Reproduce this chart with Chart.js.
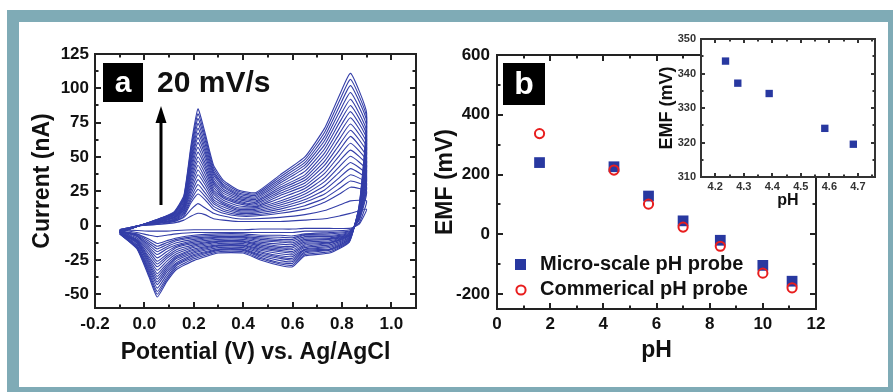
<!DOCTYPE html>
<html>
<head>
<meta charset="utf-8">
<script src="https://cdn.jsdelivr.net/npm/chart.js@4.4.1/dist/chart.umd.min.js"></script>
<style>
  html,body{margin:0;padding:0;background:#fff;}
  body{width:893px;height:392px;position:relative;overflow:hidden;}
  #frame{position:absolute;left:7px;top:10px;width:869px;height:365px;border-style:solid;border-color:#7fabb6;border-width:12px 5px 5px 12px;background:#fff;}
  canvas{position:absolute;}
</style>
</head>
<body>
<div id="frame"></div>
<canvas id="cA" width="440" height="392" style="left:0;top:0"></canvas>
<canvas id="cB" width="473" height="392" style="left:420px;top:0"></canvas>
<canvas id="cC" width="250" height="200" style="left:640px;top:20px"></canvas>
<script>
// ---------- Panel (a): cyclic voltammograms, 20 mV/s ----------
const potentials = [-0.1,-0.02,0.06,0.12,0.16,0.19,0.217,0.245,0.28,0.32,0.38,0.45,0.55,0.65,0.73,0.79,0.835,0.9,
                    0.87,0.83,0.75,0.65,0.6,0.55,0.47,0.4,0.3,0.2,0.13,0.09,0.052,0.02,-0.03,-0.1];
const cv01 = [-3,0,1,2,4,7,9,8,5,4,3,3,3,4,5,7,9,12, 1,-2,-2,-2,-2.5,-2.5,-2.5,-3,-3,-3,-3.5,-4,-4,-4,-3.5,-3];
const cv02 = [-3,0,1,3,6,12,16,13,9,7,5,5,6,8,11,15,18,18, 2,-3,-4,-4,-5,-5,-5,-5,-5,-5,-6,-7,-8,-7,-5,-3];
const cv03 = [-3,0,2,3,7,17,23,19,12,9,7,7,9,12,17,23,28,25, 4,-4,-5,-6,-7.5,-7,-7,-6,-6,-7,-9,-11,-13,-10,-6,-4];
const cv04 = [-3.5,0,2,3.5,8,19,26.5,21.5,14,10.5,8,8,10.5,14.5,20,27,32.5,28, 4.5,-4.5,-6,-6.5,-8.8,-8.5,-8,-7,-7,-8,-10,-12.5,-15,-11.5,-6.5,-4];
const cv05 = [-4,0,2,4,9,21,30,24,16,12,9,9,12,17,23,31,37,31, 5,-5,-7,-7,-10,-10,-9,-8,-8,-9,-11,-14,-17,-13,-7,-4];
const cv06 = [-4,0,2,4.5,10,23.5,33.5,27,17.5,13.5,10,10,13.5,19,26,35,41.5,34, 5.5,-5.5,-8,-8,-11.2,-11,-10,-8.5,-8.5,-10,-12.5,-15.5,-19,-14.5,-7.5,-4];
const cv07 = [-4,0,2,5,11,26,37,30,19,15,11,11,15,21,29,39,46,37, 6,-6,-9,-9,-12.5,-12,-11,-9,-9,-11,-14,-17,-21,-16,-8,-4];
const cv08 = [-4,0,2.5,5.5,11.5,28.5,40.5,32.5,21,16,12,12,16.5,23,32,43,50.5,40.5, 6.5,-6.5,-9.5,-10,-13.8,-13.5,-12,-10,-10,-12,-15,-19,-23.5,-17.5,-9,-4];
const cv09 = [-4,0,3,6,12,31,44,35,23,17,13,13,18,25,35,47,55,44, 7,-7,-10,-11,-15,-15,-13,-11,-11,-13,-16,-21,-26,-19,-10,-4];
const cv10 = [-4,0,3,6,13,33.5,47,38,24.5,18.5,14.5,13.5,20,27,38,51,60,47, 8,-7,-11,-12,-16.2,-16,-14,-11.5,-11.5,-14,-17.5,-22.5,-28,-21,-10.5,-4.5];
const cv11 = [-4,0,3,6,14,36,50,41,26,20,16,14,22,29,41,55,65,50, 9,-7,-12,-13,-17.5,-17,-15,-12,-12,-15,-19,-24,-30,-23,-11,-5];
const cv12 = [-4,0,3.5,6.5,14.5,38.5,53.5,43.5,28,21,17,15,23.5,31,44,59,69.5,53.5, 9.5,-7.5,-12.5,-14,-18.8,-18,-16,-13,-13,-16,-20.5,-26,-32.5,-24.5,-11.5,-5];
const cv13 = [-4,0,4,7,15,41,57,46,30,22,18,16,25,33,47,63,74,57, 10,-8,-13,-15,-20,-19,-17,-14,-14,-17,-22,-28,-35,-26,-12,-5];
const cv14 = [-4.5,0,4,7.5,16,43.5,60.5,49,31.5,23.5,19,17,26.5,35,50,67,78.5,60, 10.5,-8.5,-14,-16,-21.2,-20.5,-18,-14.5,-14.5,-18,-23,-29.5,-37,-27.5,-12.5,-5];
const cv15 = [-5,0,4,8,17,46,64,52,33,25,20,18,28,37,53,71,83,63, 11,-9,-15,-17,-22.5,-22,-19,-15,-15,-19,-24,-31,-39,-29,-13,-5];
const cv16 = [-5,0,4,8.5,18,48,67.5,54.5,35,26.5,21,19,29.5,39.5,56,75,87.5,66, 11.5,-9.5,-16,-17.5,-23.8,-23,-20,-16,-16,-20,-25.5,-32.5,-41,-30.5,-14,-5];
const cv17 = [-5,0,4,9,19,50,71,57,37,28,22,20,31,42,59,79,92,69, 12,-10,-17,-18,-25,-24,-21,-17,-17,-21,-27,-34,-43,-32,-15,-5];
const cv18 = [-5,0,4.5,9,19.5,52.5,74.5,60,38.5,29,23,21,32.5,44,62,83,97,72.5, 13,-10.5,-17.5,-19,-26.2,-25.5,-22,-17.5,-17.5,-22,-28,-36,-45.5,-33.5,-15.5,-5.5];
const cv19 = [-5,0,5,9,20,55,78,63,40,30,24,22,34,46,65,87,102,76, 14,-11,-18,-20,-27.5,-27,-23,-18,-18,-23,-29,-38,-48,-35,-16,-6];
const cv20 = [-5,0,5,9.5,21,57.5,81.5,65.5,42,31.5,25,23,35.5,48,68,91,106.5,79, 14.5,-11.5,-19,-21,-28.8,-28,-24,-19,-19,-24.2,-30.5,-39.5,-50,-36.5,-16.5,-6];
const cv21 = [-5,0,5,10,22,60,85,68,44,33,26,24,37,50,71,95,111,82, 15,-12,-20,-22,-30,-29,-25,-20,-20,-25.5,-32,-41,-52,-38,-17,-6];
const cvCycles = [cv01,cv02,cv03,cv04,cv05,cv06,cv07,cv08,cv09,cv10,cv11,cv12,cv13,cv14,cv15,cv16,cv17,cv18,cv19,cv20,cv21];

// ---------- Panel (b): EMF vs pH ----------
const phValues      = [1.6, 4.4, 5.7, 7.0, 8.4, 10.0, 11.1];
const emfMicro      = [240, 226, 128, 45, -20, -104, -157];
const emfCommercial = [337, 215, 101, 24, -40, -130, -179];
const seriesLabels  = ['Micro-scale pH probe', 'Commerical pH probe'];

// ---------- Inset ----------
const insetPH  = [4.236, 4.279, 4.389, 4.584, 4.684];
const insetEMF = [343.6, 337.2, 334.2, 324.1, 319.5];

const FONT = "'Liberation Sans', Arial, Helvetica, sans-serif";
Chart.defaults.font.family = FONT;
const INK = '#111';
const CV_COLOR = 'rgb(52,62,168)';
const BLUE = 'rgb(40,56,160)';
const RED = 'rgb(232,30,30)';

// Frame + inward ticks on all four sides, from the chart's own scales
const framePlugin = {
  id: 'frame',
  afterDatasetsDraw(chart, args, opts) {
    const {ctx, chartArea: a, scales: {x, y}} = chart;
    ctx.save();
    ctx.strokeStyle = opts.color || '#222';
    ctx.lineWidth = opts.width || 2;
    ctx.strokeRect(a.left, a.top, a.right - a.left, a.bottom - a.top);
    const major = opts.major || 6, minor = opts.minor || 3.5;
    const isMajor = (v, step) => Math.abs(v / step - Math.round(v / step)) < 1e-6;
    const each = (sc, step, fn) => {
      const start = Math.ceil((sc.min - 1e-9) / step);
      const end = Math.floor((sc.max + 1e-9) / step);
      for (let i = start; i <= end; i++) fn(i * step);
    };
    ctx.beginPath();
    each(x, opts.xMinor, v => {
      const px = Math.round(x.getPixelForValue(v));
      if (px <= a.left + 1 || px >= a.right - 1) return;
      const L = isMajor(v, opts.xMajor) ? major : minor;
      ctx.moveTo(px, a.bottom); ctx.lineTo(px, a.bottom - L);
      ctx.moveTo(px, a.top); ctx.lineTo(px, a.top + L);
    });
    each(y, opts.yMinor, v => {
      const py = Math.round(y.getPixelForValue(v));
      if (py <= a.top + 1 || py >= a.bottom - 1) return;
      const L = isMajor(v, opts.yMajor) ? major : minor;
      ctx.moveTo(a.left, py); ctx.lineTo(a.left + L, py);
      ctx.moveTo(a.right, py); ctx.lineTo(a.right - L, py);
    });
    ctx.stroke();
    ctx.restore();
  }
};

function labelBox(ctx, x0, y0, w, h, letter, size) {
  ctx.fillStyle = '#000';
  ctx.fillRect(x0, y0, w, h);
  ctx.fillStyle = '#fff';
  ctx.font = 'bold ' + size + 'px ' + FONT;
  ctx.textAlign = 'center';
  ctx.textBaseline = 'middle';
  ctx.fillText(letter, x0 + w / 2, y0 + h / 2 + 1);
}

const annotA = {
  id: 'annotA',
  afterDraw(chart) {
    const ctx = chart.ctx;
    ctx.save();
    labelBox(ctx, 103, 63, 40, 39, 'a', 30);
    ctx.fillStyle = INK;
    ctx.font = 'bold 30px ' + FONT;
    ctx.textAlign = 'left';
    ctx.textBaseline = 'middle';
    ctx.fillText('20 mV/s', 157, 84);
    // arrow
    ctx.strokeStyle = '#000';
    ctx.lineWidth = 3;
    ctx.beginPath(); ctx.moveTo(161, 205); ctx.lineTo(161, 120); ctx.stroke();
    ctx.fillStyle = '#000';
    ctx.beginPath(); ctx.moveTo(161, 106); ctx.lineTo(155.5, 123); ctx.lineTo(166.5, 123); ctx.closePath(); ctx.fill();
    ctx.restore();
  }
};

const annotB = {
  id: 'annotB',
  afterDraw(chart) {
    const ctx = chart.ctx;
    ctx.save();
    labelBox(ctx, 83, 63, 42, 42, 'b', 32);
    // legend built from the datasets
    const ds = chart.data.datasets;
    const micro = ds.find(d => d.label === seriesLabels[0]);
    const comm = ds.find(d => d.label === seriesLabels[1]);
    ctx.fillStyle = micro.pointBackgroundColor;
    ctx.fillRect(95, 259, 11, 11);
    ctx.strokeStyle = comm.pointBorderColor;
    ctx.lineWidth = 2;
    ctx.beginPath(); ctx.arc(101, 290, 4.6, 0, Math.PI * 2); ctx.stroke();
    ctx.fillStyle = INK;
    ctx.font = 'bold 20px ' + FONT;
    ctx.textAlign = 'left';
    ctx.textBaseline = 'middle';
    ctx.fillText(micro.label, 120, 264);
    ctx.fillText(comm.label, 120, 289);
    ctx.restore();
  }
};

const whiteArea = {
  id: 'whiteArea',
  beforeDatasetsDraw(chart) {
    const {ctx, chartArea: a} = chart;
    ctx.save();
    ctx.fillStyle = '#fff';
    ctx.fillRect(a.left, a.top, a.right - a.left, a.bottom - a.top);
    ctx.restore();
  }
};

function axis(opts) {
  return Object.assign({
    type: 'linear',
    grid: {display: false, drawTicks: false},
    border: {display: false},
  }, opts);
}

// ---------- Chart A ----------
new Chart(document.getElementById('cA'), {
  type: 'scatter',
  data: {
    datasets: cvCycles.map((c, i) => ({
      label: 'cycle ' + (i + 1),
      data: potentials.map((x, j) => ({x: x, y: c[j]})),
      showLine: true, borderColor: CV_COLOR, borderWidth: 1.1,
      pointRadius: 0, tension: 0.15, fill: false
    }))
  },
  options: {
    responsive: false, animation: false, devicePixelRatio: 1,
    layout: {padding: {left: 0, top: 54, right: 24, bottom: 0}},
    plugins: {legend: {display: false}, tooltip: {enabled: false},
      frame: {xMinor: 0.1, xMajor: 0.2, yMinor: 12.5, yMajor: 25}},
    scales: {
      x: axis({min: -0.2, max: 1.1,
        afterFit(s) { s.height = 84; },
        ticks: {stepSize: 0.2, includeBounds: false, padding: 6, maxRotation: 0, autoSkip: false,
          color: INK, font: {size: 17, weight: 'bold'}, callback: v => v.toFixed(1)},
        title: {display: true, text: 'Potential (V) vs. Ag/AgCl', color: INK,
          font: {size: 23, weight: 'bold'}, padding: {top: 0, bottom: 26}}}),
      y: axis({min: -60, max: 125,
        afterFit(s) { s.width = 95; },
        ticks: {stepSize: 25, includeBounds: false, padding: 6, autoSkip: false,
          color: INK, font: {size: 17, weight: 'bold'}},
        title: {display: true, text: 'Current (nA)', color: INK,
          font: {size: 23, weight: 'bold'}, padding: {top: 29, bottom: 0}}})
    }
  },
  plugins: [framePlugin, annotA]
});

// ---------- Chart B ----------
new Chart(document.getElementById('cB'), {
  type: 'scatter',
  data: {
    datasets: [
      {label: seriesLabels[0], order: 2,
       data: phValues.map((x, i) => ({x: x, y: emfMicro[i]})),
       pointStyle: 'rect', pointRadius: 7.6, pointBackgroundColor: BLUE, pointBorderColor: BLUE, pointBorderWidth: 0},
      {label: seriesLabels[1], order: 1,
       data: phValues.map((x, i) => ({x: x, y: emfCommercial[i]})),
       pointStyle: 'circle', pointRadius: 4.6, pointBackgroundColor: 'rgba(0,0,0,0)', pointBorderColor: RED, pointBorderWidth: 2}
    ]
  },
  options: {
    responsive: false, animation: false, devicePixelRatio: 1,
    layout: {padding: {left: 0, top: 55, right: 77, bottom: 0}},
    plugins: {legend: {display: false}, tooltip: {enabled: false},
      frame: {xMinor: 1, xMajor: 2, yMinor: 100, yMajor: 200}},
    scales: {
      x: axis({min: 0, max: 12,
        afterFit(s) { s.height = 83; },
        ticks: {stepSize: 2, includeBounds: false, padding: 5, maxRotation: 0, autoSkip: false,
          color: INK, font: {size: 17, weight: 'bold'}},
        title: {display: true, text: 'pH', color: INK,
          font: {size: 23, weight: 'bold'}, padding: {top: 0, bottom: 28}}}),
      y: axis({min: -250, max: 600,
        afterFit(s) { s.width = 77; },
        ticks: {stepSize: 200, includeBounds: false, padding: 7, autoSkip: false,
          color: INK, font: {size: 17, weight: 'bold'}},
        title: {display: true, text: 'EMF (mV)', color: INK,
          font: {size: 23, weight: 'bold'}, padding: {top: 12, bottom: 0}}})
    }
  },
  plugins: [framePlugin, annotB]
});

// ---------- Inset ----------
new Chart(document.getElementById('cC'), {
  type: 'scatter',
  data: {
    datasets: [{label: seriesLabels[0],
      data: insetPH.map((x, i) => ({x: x, y: insetEMF[i]})),
      pointStyle: 'rect', pointRadius: 5.2, pointBackgroundColor: BLUE, pointBorderColor: BLUE, pointBorderWidth: 0}]
  },
  options: {
    responsive: false, animation: false, devicePixelRatio: 1,
    layout: {padding: {left: 0, top: 19, right: 15, bottom: 0}},
    plugins: {legend: {display: false}, tooltip: {enabled: false},
      frame: {xMinor: 0.05, xMajor: 0.1, yMinor: 5, yMajor: 10, major: 4, minor: 2.5, color: '#333'}},
    scales: {
      x: axis({min: 4.15, max: 4.76,
        afterFit(s) { s.height = 43; },
        ticks: {stepSize: 0.1, includeBounds: false, padding: 3, maxRotation: 0, autoSkip: false,
          color: '#333', font: {size: 11, weight: 'bold'}, callback: v => v.toFixed(1)},
        title: {display: true, text: 'pH', color: INK,
          font: {size: 16, weight: 'bold'}, padding: {top: 0, bottom: 10}}}),
      y: axis({min: 310, max: 350,
        afterFit(s) { s.width = 61; },
        ticks: {stepSize: 10, includeBounds: false, padding: 5, autoSkip: false,
          color: '#333', font: {size: 11, weight: 'bold'}},
        title: {display: true, text: 'EMF (mV)', color: INK,
          font: {size: 18, weight: 'bold'}, padding: {top: 16, bottom: 0}}})
    }
  },
  plugins: [whiteArea, framePlugin]
});
</script>
</body>
</html>
